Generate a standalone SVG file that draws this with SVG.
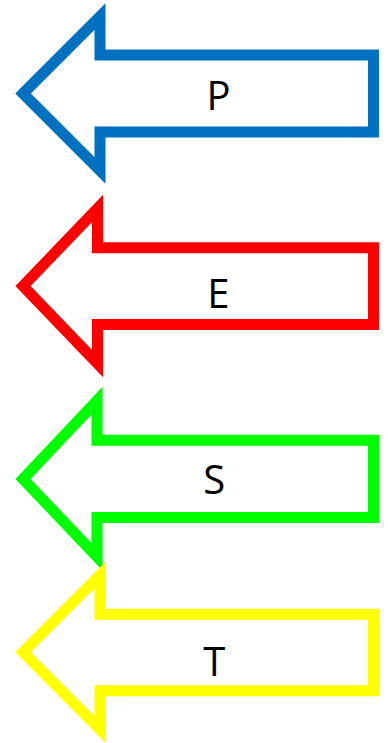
<svg xmlns="http://www.w3.org/2000/svg" width="388" height="743" viewBox="0 0 388 743">
<style>
.arrow{fill:#FFFFFF;stroke-width:11;stroke-linejoin:miter;stroke-miterlimit:10}
.lbl{font-family:"Open Sans","Noto Sans",sans-serif;font-size:40px;fill:#000000;text-anchor:middle}
</style>
<rect width="388" height="743" fill="#FFFFFF"/>
<g id="arrow-P">
<polygon class="arrow" stroke="#0070C0" points="23,93.5 100,16.5 100,55 373.5,55 373.5,132 100,132 100,170.5"/>
<text class="lbl" x="218.5" y="109.5">P</text>
</g>
<g id="arrow-E">
<polygon class="arrow" stroke="#FF0000" points="23,286 97.5,208.5 97.5,247.8 373.5,247.8 373.5,324.5 97.5,324.5 97.5,363.5"/>
<text class="lbl" x="218.3" y="308.3">E</text>
</g>
<g id="arrow-S">
<polygon class="arrow" stroke="#00FF00" points="23,479 97,400.6 97,440.2 373.5,440.2 373.5,517.5 97,517.5 97,556.7"/>
<text class="lbl" x="214.2" y="494">S</text>
</g>
<g id="arrow-T">
<polygon class="arrow" stroke="#FFFF00" points="23,652.2 100,575 100,614.2 373.5,614.2 373.5,690.8 100,690.8 100,729.4"/>
<text class="lbl" x="214.2" y="676">T</text>
</g>
<g id="connectors"/>
</svg>
